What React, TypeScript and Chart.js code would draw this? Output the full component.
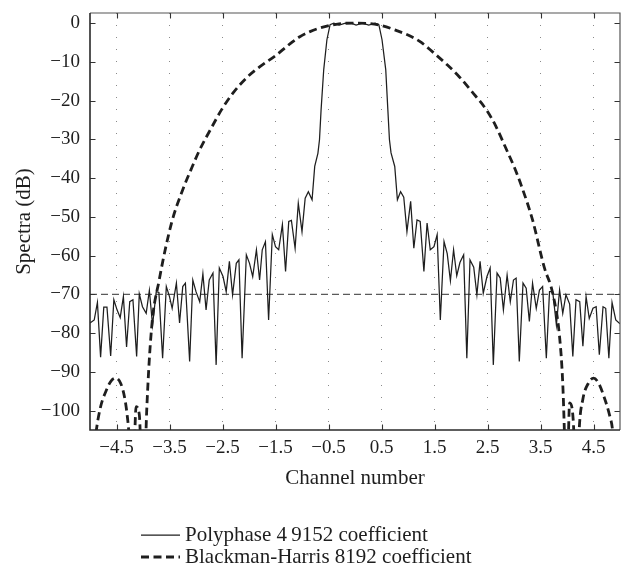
import React, { useEffect, useRef } from "react";
import { Chart, registerables } from "chart.js";

Chart.register(...registerables);

// ---- data ----
const xTicks = [-4.5, -3.5, -2.5, -1.5, -0.5, 0.5, 1.5, 2.5, 3.5, 4.5];
const yTicks = [0, -10, -20, -30, -40, -50, -60, -70, -80, -90, -100];
const xRange = [-5, 5];
const yRange = [-105, 2.6];
const refLevel = -70;

const polyLabel = "Polyphase 4\u20099152 coefficient";
const bhLabel = "Blackman-Harris 8192 coefficient";

const polyX = [
  -5.0, -4.92, -4.86, -4.8, -4.74, -4.68, -4.61, -4.55, -4.49, -4.43, -4.37, -4.31, -4.25, -4.19, -4.12, -4.07,
  -4.01, -3.94, -3.88, -3.82, -3.75, -3.7, -3.63, -3.56, -3.5, -3.45, -3.37, -3.31, -3.25, -3.2, -3.12, -3.06,
  -3.0, -2.93, -2.87, -2.81, -2.75, -2.68, -2.62, -2.56, -2.49, -2.43, -2.37, -2.31, -2.24, -2.19, -2.13, -2.05,
  -1.99, -1.93, -1.86, -1.8, -1.75, -1.69, -1.63, -1.56, -1.5, -1.44, -1.37, -1.31, -1.25, -1.2, -1.13, -1.07,
  -1.0, -0.94, -0.88, -0.81, -0.76, -0.7, -0.67, -0.64, -0.59, -0.53, -0.47, -0.4, -0.3, -0.18, -0.06, 0.02,
  0.14, 0.26, 0.38, 0.45, 0.51, 0.58, 0.62, 0.65, 0.68, 0.75, 0.8, 0.86, 0.92, 0.98, 1.05, 1.11,
  1.17, 1.23, 1.3, 1.36, 1.42, 1.49, 1.55, 1.61, 1.68, 1.74, 1.8, 1.86, 1.92, 1.98, 2.05, 2.11,
  2.17, 2.24, 2.3, 2.36, 2.42, 2.49, 2.55, 2.61, 2.68, 2.74, 2.8, 2.87, 2.93, 2.99, 3.04, 3.1,
  3.17, 3.23, 3.29, 3.35, 3.42, 3.48, 3.54, 3.61, 3.67, 3.73, 3.8, 3.86, 3.92, 3.98, 4.05, 4.11,
  4.17, 4.24, 4.3, 4.36, 4.42, 4.49, 4.55, 4.61, 4.68, 4.73, 4.79, 4.85, 4.92, 5.0,
];
const polyY = [
  -77.4, -76.6, -72.1, -86.2, -73.3, -73.3, -85.9, -71.4, -74.0, -76.0, -70.6, -83.6, -71.9, -71.4, -86.0, -69.9,
  -73.2, -74.9, -69.0, -77.9, -69.3, -69.5, -86.5, -68.0, -70.6, -73.6, -67.1, -77.4, -68.0, -67.1, -87.3, -66.3,
  -69.3, -71.9, -64.7, -74.0, -66.3, -64.5, -88.2, -63.2, -65.4, -69.3, -61.5, -70.1, -62.0, -61.1, -86.5, -59.8,
  -62.0, -65.4, -58.5, -66.3, -58.5, -56.4, -76.6, -54.6, -57.7, -58.5, -52.0, -64.1, -51.2, -50.9, -58.1, -46.5,
  -53.8, -45.2, -43.5, -45.6, -37.0, -33.6, -30.1, -22.4, -12.0, -4.3, -0.4, 0.0, -0.5, 0.0, -0.1, -0.5,
  0.0, -0.5, 0.0, -0.4, -4.3, -12.0, -22.4, -30.1, -33.5, -37.0, -45.6, -43.5, -44.9, -53.8, -46.0, -58.1,
  -50.8, -51.2, -64.1, -51.6, -58.5, -57.7, -54.6, -76.6, -56.4, -59.5, -66.5, -58.5, -65.2, -61.8, -59.8, -86.5,
  -61.1, -63.0, -70.1, -61.5, -69.7, -65.4, -63.2, -88.2, -64.5, -65.8, -74.0, -65.0, -71.9, -66.3, -65.8, -87.3,
  -67.1, -68.4, -77.0, -67.1, -73.6, -68.9, -68.0, -86.5, -69.3, -69.3, -77.9, -68.9, -74.9, -70.1, -72.5, -86.0,
  -71.4, -71.9, -83.4, -70.6, -76.2, -73.6, -73.2, -85.6, -73.2, -73.6, -86.5, -72.1, -76.6, -77.6,
];

const bhX = [
  -5.0, -4.92, -4.88, -4.8, -4.69, -4.6, -4.51, -4.42, -4.35, -4.3, -4.26, -4.2, -4.13, -4.07, -4.0, -3.95,
  -3.93, -3.84, -3.69, -3.46, -3.25, -3.1, -2.93, -2.7, -2.52, -2.3, -2.03, -1.8, -1.48, -1.25, -1.05, -0.85,
  -0.67, -0.3, 0.0, 0.46, 0.8, 1.05, 1.25, 1.47, 1.75, 1.97, 2.2, 2.48, 2.65, 2.86, 3.0, 3.14,
  3.35, 3.57, 3.73, 3.86, 3.92, 3.95, 3.99, 4.05, 4.12, 4.18, 4.23, 4.3, 4.4, 4.5, 4.6, 4.7,
  4.8, 4.86, 4.92, 5.0,
];
const bhY = [
  -125, -110, -105, -99, -94.7, -92.3, -91.6, -93, -96.4, -101, -107, -125, -99, -101, -125, -108,
  -100, -79, -66, -51.5, -43, -38, -32.7, -26.8, -22.4, -18, -13.9, -11.3, -8.2, -5.6, -3.6, -2.2,
  -1.3, -0.2, 0, -0.5, -2.0, -3.4, -5.0, -7.5, -10.9, -13.9, -17.6, -22.4, -26.4, -32.7, -37, -42,
  -50.8, -63, -69.7, -81, -93, -105, -125, -98, -103, -125, -105, -97, -93, -91.6, -93, -96.5,
  -101, -105, -115, -125,
];

// ---- style ----
const FONT = "'Liberation Serif', 'Times New Roman', serif";
const INK = "#1e1e1e";

const fmt = (v: number) => (v < 0 ? "\u2212" : "") + String(Math.abs(v));

const framePlugin = {
  id: "frameAndTicks",
  afterDatasetsDraw(chart: any) {
    const { ctx, chartArea, scales } = chart;
    const { left, right, top, bottom } = chartArea;
    const xs = scales.x;
    const ys = scales.y;
    const tl = 5.5;
    ctx.save();
    ctx.strokeStyle = "#333";
    ctx.lineWidth = 1.1;
    ctx.beginPath();
    xTicks.forEach((v) => {
      const px = Math.round(xs.getPixelForValue(v)) + 0.5;
      ctx.moveTo(px, bottom);
      ctx.lineTo(px, bottom - tl);
      ctx.moveTo(px, top);
      ctx.lineTo(px, top + tl);
    });
    yTicks.forEach((v) => {
      const py = Math.round(ys.getPixelForValue(v)) + 0.5;
      ctx.moveTo(left, py);
      ctx.lineTo(left + tl, py);
      ctx.moveTo(right, py);
      ctx.lineTo(right - tl, py);
    });
    ctx.stroke();
    ctx.strokeStyle = "#555";
    ctx.lineWidth = 1.2;
    ctx.beginPath();
    ctx.moveTo(left, top);
    ctx.lineTo(right, top);
    ctx.lineTo(right, bottom);
    ctx.stroke();
    ctx.strokeStyle = "#2a2a2a";
    ctx.lineWidth = 1.6;
    ctx.beginPath();
    ctx.moveTo(left, top);
    ctx.lineTo(left, bottom);
    ctx.lineTo(right, bottom);
    ctx.stroke();
    ctx.restore();
  },
  afterDraw(chart: any) {
    const { ctx } = chart;
    const order = [polyLabel, bhLabel];
    const rows = [535, 557];
    ctx.save();
    order.forEach((lab, i) => {
      const ds = chart.data.datasets.find((d: any) => d.label === lab);
      if (!ds) return;
      const y = rows[i];
      ctx.strokeStyle = ds.borderColor;
      ctx.lineWidth = ds.borderWidth;
      ctx.setLineDash(ds.borderDash || []);
      ctx.beginPath();
      ctx.moveTo(141, y);
      ctx.lineTo(180, y);
      ctx.stroke();
      ctx.setLineDash([]);
      ctx.fillStyle = INK;
      ctx.font = `21px ${FONT}`;
      ctx.textBaseline = "middle";
      ctx.textAlign = "left";
      ctx.fillText(lab, 185, y);
    });
    ctx.restore();
  },
};

export default function App() {
  const ref = useRef<HTMLCanvasElement | null>(null);

  useEffect(() => {
    if (!ref.current) return;
    const chart = new Chart(ref.current, {
      type: "line",
      data: {
        datasets: [
          {
            label: bhLabel,
            data: bhX.map((x, i) => ({ x, y: bhY[i] })),
            borderColor: INK,
            borderWidth: 2.8,
            borderDash: [8, 4.5],
            cubicInterpolationMode: "monotone",
            pointRadius: 0,
            fill: false,
            clip: 0,
          },
          {
            label: polyLabel,
            data: polyX.map((x, i) => ({ x, y: polyY[i] })),
            borderColor: INK,
            borderWidth: 1.25,
            tension: 0,
            pointRadius: 0,
            fill: false,
            clip: 0,
          },
          {
            label: "ref",
            data: xRange.map((x) => ({ x, y: refLevel })),
            borderColor: "#5a5a5a",
            borderWidth: 1.4,
            borderDash: [7, 4],
            pointRadius: 0,
            fill: false,
            clip: 0,
          },
        ],
      },
      options: {
        animation: false,
        responsive: false,
        devicePixelRatio: 1,
        layout: { padding: { left: 0, right: 8, top: 13, bottom: 72 } },
        plugins: { legend: { display: false }, tooltip: { enabled: false } },
        elements: { point: { radius: 0 } },
        scales: {
          x: {
            type: "linear",
            min: xRange[0],
            max: xRange[1],
            afterBuildTicks: (s: any) => {
              s.ticks = xTicks.map((v) => ({ value: v }));
            },
            afterFit: (s: any) => {
              s.height = 61;
              s.paddingLeft = 0;
              s.paddingRight = 0;
            },
            ticks: {
              padding: 7,
              autoSkip: false,
              maxRotation: 0,
              color: INK,
              font: { family: FONT, size: 19 },
              callback: (v: any) => fmt(Number(v)),
            },
            grid: { color: "#8a8a8a", lineWidth: 1, drawTicks: false },
            border: { display: false, dash: [1, 11] },
            title: {
              display: true,
              text: "Channel number",
              color: INK,
              font: { family: FONT, size: 21 },
              padding: { top: 0, bottom: 0 },
            },
          },
          y: {
            type: "linear",
            min: yRange[0],
            max: yRange[1],
            afterBuildTicks: (s: any) => {
              s.ticks = yTicks.map((v) => ({ value: v }));
            },
            afterFit: (s: any) => {
              s.width = 90;
              s.paddingTop = 0;
              s.paddingBottom = 0;
            },
            ticks: {
              padding: 10,
              autoSkip: false,
              color: INK,
              font: { family: FONT, size: 19 },
              callback: (v: any) => fmt(Number(v)),
            },
            grid: { display: false, drawTicks: false },
            border: { display: false },
            title: {
              display: true,
              text: "Spectra (dB)",
              color: INK,
              font: { family: FONT, size: 21 },
              padding: { top: 12, bottom: 0 },
            },
          },
        },
      },
      plugins: [framePlugin],
    } as any);
    return () => chart.destroy();
  }, []);

  return (
    <div style={{ position: "fixed", left: 0, top: 0, width: 628, height: 563, background: "#fff" }}>
      <canvas ref={ref} width={628} height={563} style={{ width: 628, height: 563, display: "block" }} />
    </div>
  );
}
